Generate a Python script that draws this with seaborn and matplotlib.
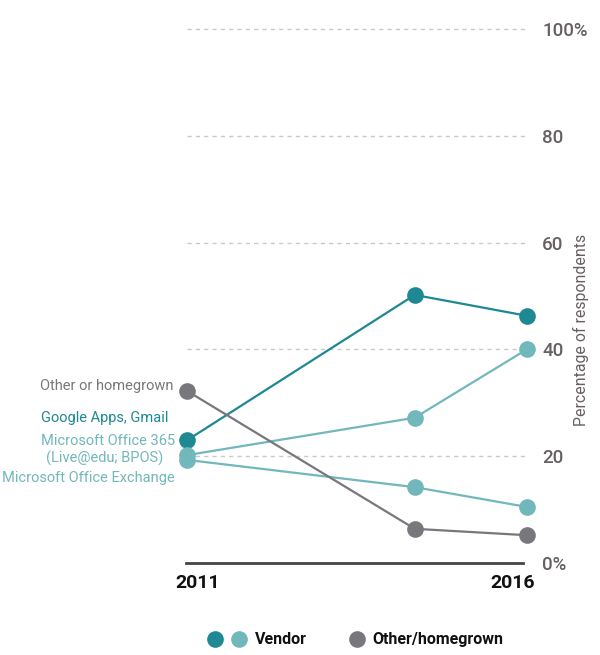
import matplotlib
matplotlib.use("Agg")
import matplotlib.pyplot as plt
import matplotlib.transforms as mtrans
import seaborn as sns
import pandas as pd
from matplotlib.lines import Line2D
from matplotlib.legend_handler import HandlerTuple

# ---- data ----
years = [2011, 2014.35, 2016]
google = [23.0, 50.2, 46.3]
office365 = [20.2, 27.2, 40.0]
exchange = [19.3, 14.2, 10.5]
other = [32.2, 6.4, 5.2]
series_names = ["Google Apps, Gmail", "Microsoft Office 365\n(Live@edu; BPOS)",
                "Microsoft Office Exchange", "Other or homegrown"]
yticks = [0, 20, 40, 60, 80, 100]
ytick_labels = ["0%", "20", "40", "60", "80", "100%"]
xtick_years = [2011, 2016]
xtick_labels = ["2011", "2016"]
legend_labels = ["Vendor", "Other/homegrown"]

DARK = "#1e8893"
LIGHT = "#72b7bc"
GREY = "#78787c"
TXT = "#665f63"
colors = [DARK, LIGHT, LIGHT, GREY]

rows = []
for name, vals in zip(series_names, [google, office365, exchange, other]):
    for yr, v in zip(years, vals):
        rows.append({"year": yr, "value": v, "series": name})
df = pd.DataFrame(rows)

sns.set_theme(style="white")
plt.rcParams["font.family"] = ["Roboto", "DejaVu Sans"]

fig = plt.figure(figsize=(6, 6.55), dpi=100)
ax = fig.add_axes([0.312, 0.1405, 0.566, 0.8152])

for y in yticks[1:]:
    ax.axhline(y, color="#c9c9c9", lw=1, ls=(0, (3, 3)), zorder=0)

sns.lineplot(data=df, x="year", y="value", hue="series",
             palette=dict(zip(series_names, colors)), marker="o",
             markersize=12, markeredgewidth=0, linewidth=1.6,
             legend=False, ax=ax)
for l in ax.lines:
    l.set_clip_on(False)

ax.set_xlim(2011, 2016)
ax.set_ylim(0, 100)
ax.set_xlabel("")
ax.set_ylabel("")
for s in ["top", "left", "right"]:
    ax.spines[s].set_visible(False)
ax.spines["bottom"].set_color("#444444")
ax.spines["bottom"].set_linewidth(2)
ax.spines["bottom"].set_bounds(2010.98, 2015.95)

ax.yaxis.tick_right()
ax.set_yticks(yticks)
ax.set_yticklabels(ytick_labels, fontsize=13.5, color=TXT, fontweight="medium")
ax.tick_params(axis="y", length=0, pad=11)
ax.set_xticks(xtick_years)
ax.set_xticklabels(xtick_labels, fontsize=14, fontweight="bold", color="#111111")
ax.tick_params(axis="x", length=0, pad=8)
tl = ax.get_xticklabels()
tl[0].set_ha("left")
tl[1].set_ha("right")
tl[0].set_transform(tl[0].get_transform() + mtrans.ScaledTranslation(-12/100, 0, fig.dpi_scale_trans))
tl[1].set_transform(tl[1].get_transform() + mtrans.ScaledTranslation(8/100, 0, fig.dpi_scale_trans))

fig.text(0.968, 0.497, "Percentage of respondents", rotation=90,
         ha="center", va="center", fontsize=11.4, color=TXT)

# left labels
def lab(x, y, s, c):
    fig.text(x / 600, 1 - y / 655, s, ha="right", va="center", fontsize=10.5, color=c)
lab(173, 386, "Other or homegrown", GREY)
lab(168, 418, "Google Apps, Gmail", DARK)
lab(175, 441, "Microsoft Office 365", LIGHT)
lab(163, 458, "(Live@edu; BPOS)", LIGHT)
lab(175, 478, "Microsoft Office Exchange", LIGHT)

def dot(c, a=1.0):
    return Line2D([], [], marker="o", color=c, ls="", markersize=12,
                  markeredgewidth=0, alpha=a)
leg = fig.legend([(dot(DARK), dot(LIGHT)), (dot("white", 0.0), dot(GREY))], legend_labels,
                 handler_map={tuple: HandlerTuple(ndivide=None, pad=0.8)},
                 loc="center", bbox_to_anchor=(0.594, 0.023), ncol=2, frameon=False,
                 prop={"weight": "bold", "size": 11.5}, handletextpad=0.6,
                 columnspacing=1.3, handlelength=2.2)
for t in leg.get_texts():
    t.set_color("#111111")
fig.savefig("out.png", dpi=100)
